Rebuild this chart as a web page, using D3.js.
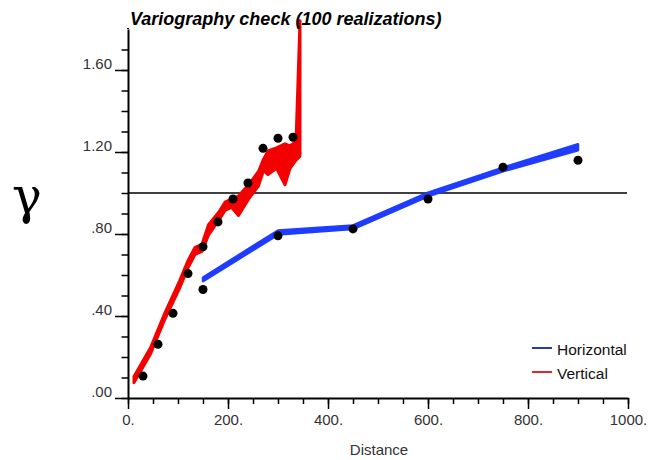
<!DOCTYPE html>
<html>
<head>
<meta charset="utf-8">
<script src="https://cdn.jsdelivr.net/npm/d3@7"></script>
<style>
  body { margin: 0; background: #fff; }
  svg { display: block; }
  .tick text { font-family: "Liberation Sans", Arial, sans-serif; font-size: 15px; fill: #333; }
</style>
</head>
<body>
<div id="chart"></div>
<script>
(function () {
  'use strict';

  // experimental variogram points
  var vertLags = [30, 60, 90, 120, 150, 180, 210, 240, 270, 300, 330];
  var vertPoints = [0.107, 0.262, 0.413, 0.607, 0.738, 0.859, 0.971, 1.049, 1.218, 1.267, 1.272];

  var horizLags = [150, 300, 450, 600, 750, 900];
  var horizPoints = [0.529, 0.791, 0.825, 0.971, 1.126, 1.160];

  // envelope of the 100 realizations
  var vertEnvLags = [12, 45, 72, 103, 120, 134, 148, 161, 181, 194, 207, 221, 241, 261, 271, 280, 297, 314, 324, 336, 344];
  var vertEnvLow  = [0.075, 0.215, 0.375, 0.535, 0.635, 0.700, 0.715, 0.795, 0.865, 0.915, 0.930, 0.890, 0.970, 1.035, 1.110, 1.090, 1.120, 1.040, 1.120, 1.160, 1.180];
  var vertEnvHigh = [0.105, 0.245, 0.405, 0.570, 0.670, 0.735, 0.750, 0.845, 0.905, 0.955, 0.970, 0.985, 1.040, 1.105, 1.165, 1.205, 1.220, 1.240, 1.230, 1.250, 1.840];

  var horizEnvLags = [150, 300, 450, 600, 750, 900];
  var horizEnvLow  = [0.570, 0.797, 0.824, 0.984, 1.106, 1.208];
  var horizEnvHigh = [0.588, 0.817, 0.842, 1.002, 1.124, 1.238];

  var sill = 1.0;

  var xMajor = [0, 200, 400, 600, 800, 1000];
  var xMinor = d3.range(0, 1001, 50);
  var yMajor = [0, 0.4, 0.8, 1.2, 1.6];
  var yMinor = d3.range(0, 18).map(function(i) { return i / 10; });

  var seriesNames = ["Horizontal", "Vertical"];

  var width = 660, height = 460;

  var svg = d3.select("#chart")
      .append("svg")
      .attr("width", width)
      .attr("height", height);

  svg.append("rect")
      .attr("width", width)
      .attr("height", height)
      .attr("fill", "#fff");

  var x = d3.scaleLinear().domain([0, 1000]).range([128, 628]);
  var y = d3.scaleLinear().domain([0, 1.8]).range([398, 29]);

  ///////////////////////////////////////////////
  // axes
  ///////////////////////////////////////////////

  var yMinorAxis = svg.append("g")
      .attr("transform", "translate(" + x(0) + ",0)")
      .call(d3.axisLeft(y).tickValues(yMinor).tickSize(6.5).tickFormat(""));
  yMinorAxis.select(".domain").remove();

  var yAxis = svg.append("g")
      .attr("transform", "translate(" + x(0) + ",0)")
      .call(d3.axisLeft(y)
        .tickValues(yMajor)
        .tickSize(13)
        .tickSizeOuter(0)
        .tickPadding(3)
        .tickFormat(function(d) { return d3.format(".2f")(d).replace(/^0/, ""); }));
  yAxis.selectAll(".tick text").attr("dy", "-1.5px");

  var xMinorAxis = svg.append("g")
      .attr("transform", "translate(0," + y(0) + ")")
      .call(d3.axisBottom(x).tickValues(xMinor).tickSize(6).tickFormat(""));
  xMinorAxis.select(".domain").remove();

  var xAxis = svg.append("g")
      .attr("transform", "translate(0," + y(0) + ")")
      .call(d3.axisBottom(x)
        .tickValues(xMajor)
        .tickSize(11)
        .tickSizeOuter(0)
        .tickPadding(5)
        .tickFormat(function(d) { return d + "."; }));

  svg.selectAll(".tick line").attr("stroke", "#000").attr("stroke-width", 1.5);
  svg.selectAll(".domain").attr("stroke", "#000").attr("stroke-width", 2);

  // axis line reaches a bit past the top tick
  svg.append("line")
      .attr("x1", x(0)).attr("x2", x(0))
      .attr("y1", y(1.8)).attr("y2", y(1.8) - 1)
      .attr("stroke", "#000").attr("stroke-width", 2);

  // sill
  svg.append("line")
      .attr("x1", x(0)).attr("x2", x(1000) - 1)
      .attr("y1", y(sill)).attr("y2", y(sill))
      .attr("stroke", "#000")
      .attr("stroke-width", 1.5);

  ///////////////////////////////////////////////
  // realization envelopes
  ///////////////////////////////////////////////

  var band = d3.area()
      .x(function(d) { return x(d.lag); })
      .y0(function(d) { return y(d.low); })
      .y1(function(d) { return y(d.high); });

  function zip(lags, low, high) {
    return lags.map(function(l, i) { return { lag: l, low: low[i], high: high[i] }; });
  }

  svg.append("path")
      .datum(zip(horizEnvLags, horizEnvLow, horizEnvHigh))
      .attr("d", band)
      .attr("fill", "#1f3cff")
      .attr("stroke", "#1f3cff")
      .attr("stroke-width", 2.5)
      .attr("stroke-linejoin", "round");

  svg.append("path")
      .datum(zip(vertEnvLags, vertEnvLow, vertEnvHigh))
      .attr("d", band)
      .attr("fill", "#f50000")
      .attr("stroke", "#f50000")
      .attr("stroke-width", 3)
      .attr("stroke-linejoin", "round");

  ///////////////////////////////////////////////
  // experimental points
  ///////////////////////////////////////////////

  var points = vertLags.map(function(l, i) { return [l, vertPoints[i]]; })
      .concat(horizLags.map(function(l, i) { return [l, horizPoints[i]]; }));

  svg.selectAll(".expPoint")
      .data(points)
      .enter().append("circle")
        .attr("class", "expPoint")
        .attr("cx", function(d) { return x(d[0]); })
        .attr("cy", function(d) { return y(d[1]); })
        .attr("r", 4.5)
        .attr("fill", "#000");

  ///////////////////////////////////////////////
  // text
  ///////////////////////////////////////////////

  svg.append("text")
      .attr("x", 130)
      .attr("y", 25)
      .style("font-family", "'Liberation Sans', Arial, sans-serif")
      .style("font-size", "18px")
      .style("font-weight", "bold")
      .style("font-style", "italic")
      .text("Variography check (100 realizations)");

  svg.append("text")
      .attr("x", 12)
      .attr("y", 213)
      .style("font-family", "'DejaVu Serif', serif")
      .style("font-size", "50px")
      .text("γ");

  svg.append("text")
      .attr("x", 379)
      .attr("y", 455)
      .style("text-anchor", "middle")
      .style("font-family", "'Liberation Sans', Arial, sans-serif")
      .style("font-size", "15px")
      .style("fill", "#333")
      .text("Distance");

  // legend
  var legendColors = ["#2b3aa8", "#e02828"];
  var legend = svg.selectAll(".legendItem")
      .data(seriesNames)
      .enter().append("g")
        .attr("class", "legendItem")
        .attr("transform", function(d, i) { return "translate(532," + (348 + i * 24) + ")"; });

  legend.append("line")
      .attr("x1", 0).attr("x2", 20)
      .attr("stroke", function(d, i) { return legendColors[i]; })
      .attr("stroke-width", 2);

  legend.append("text")
      .attr("x", 25)
      .attr("y", 7)
      .style("font-family", "'Liberation Sans', Arial, sans-serif")
      .style("font-size", "15.5px")
      .style("fill", "#111")
      .text(function(d) { return d; });

}());
</script>
</body>
</html>
